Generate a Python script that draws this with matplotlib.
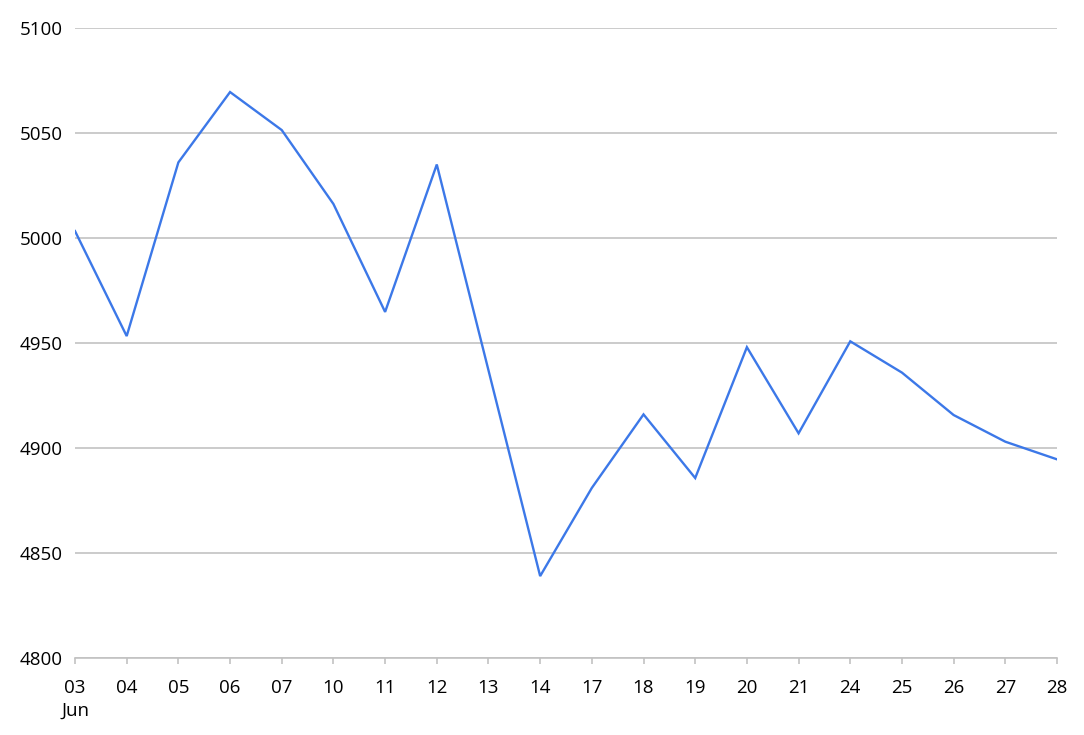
import matplotlib
matplotlib.use("Agg")
import matplotlib.pyplot as plt

days = ["03", "04", "05", "06", "07", "10", "11", "12", "13", "14",
        "17", "18", "19", "20", "21", "24", "25", "26", "27", "28"]
values = [5003.3, 4953.3, 5036.0, 5069.5, 5051.4, 5016.2, 4964.8, 5035.0, 4937.0, 4839.0,
          4881.0, 4916.0, 4885.7, 4948.0, 4907.0, 4950.8, 4935.9, 4915.7, 4903.0, 4894.6]
month_label = "Jun"
y_ticks = [4800, 4850, 4900, 4950, 5000, 5050, 5100]

plt.rcParams['font.family'] = ['Open Sans', 'DejaVu Sans']

fig = plt.figure(figsize=(10.84, 7.35), dpi=100)
ax = fig.add_axes([75/1084, 77/735, (1057-75)/1084, (658-28)/735])

x = list(range(len(days)))
ax.plot(x, values, color="#3c78e8", linewidth=1.7, solid_joinstyle="miter", zorder=3)

ax.set_xlim(0, len(days) - 1)
ax.set_ylim(4800, 5100)
ax.set_yticks(y_ticks)
ax.set_yticklabels([str(t) for t in y_ticks])
labels = [d if i else d + "\n" + month_label for i, d in enumerate(days)]
ax.set_xticks(x)
ax.set_xticklabels(labels, fontsize=13.5, linespacing=1.35)

ax.grid(axis="y", color="#c2c2c2", linewidth=1.2)
ax.set_axisbelow(True)
for s in ["top", "right", "left"]:
    ax.spines[s].set_visible(False)
ax.spines["bottom"].set_color("#c2c2c2")
ax.spines["bottom"].set_linewidth(1.2)

ax.tick_params(axis="y", length=0, pad=9, labelsize=13.5, labelcolor="black")
ax.tick_params(axis="x", length=4.5, width=1.2, color="#c2c2c2", pad=10.5, labelsize=13.5, labelcolor="black")

fig.savefig("out.png", dpi=100)
